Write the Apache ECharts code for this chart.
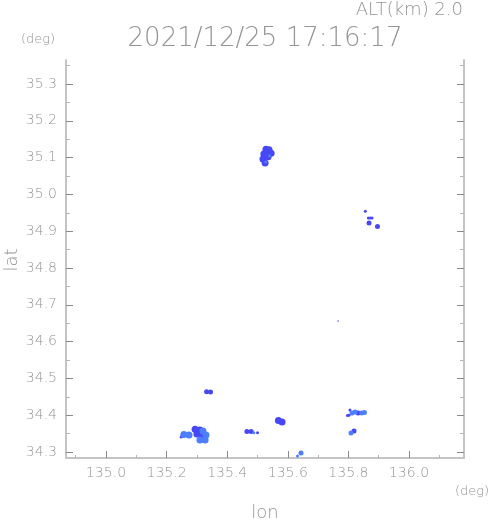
<!DOCTYPE html>
<html><head><meta charset="utf-8">
<script src="https://cdn.jsdelivr.net/npm/echarts@6/dist/echarts.min.js"></script>
<style>html,body{margin:0;padding:0;background:#fff}#c{width:491px;height:521px}</style>
</head><body><div id="c"></div>
<script>
// Axis ticks
const lonMajor = [135.0, 135.2, 135.4, 135.6, 135.8, 136.0];
const lonMinor = [134.9, 135.1, 135.3, 135.5, 135.7, 135.9, 136.1];
const latMajor = [34.3, 34.4, 34.5, 34.6, 34.7, 34.8, 34.9, 35.0, 35.1, 35.2, 35.3];
const latMinor = [34.35, 34.45, 34.55, 34.65, 34.75, 34.85, 34.95, 35.05, 35.15, 35.25, 35.35];
const lonRange = [134.868, 136.1815];
const latRange = [34.2837, 35.3652];

// Echo cells, darker blue - large
const darkLargeLon = [135.528, 135.538, 135.545, 135.521, 135.535, 135.518, 135.525, 135.530,
  135.294, 135.310, 135.300, 135.314, 135.569, 135.581];
const darkLargeLat = [35.123, 35.121, 35.112, 35.110, 35.102, 35.096, 35.085, 35.112,
  34.362, 34.360, 34.349, 34.346, 34.3856, 34.3815];
// darker blue - medium
const darkMidLon = [135.896, 135.868, 135.332, 135.345, 135.832, 135.8185, 135.465, 135.479];
const darkMidLat = [34.913, 34.922, 34.464, 34.463, 34.406, 34.357, 34.356, 34.356];
// darker blue - small
const darkSmallLon = [135.856, 135.866, 135.872, 135.878, 135.500, 135.797, 135.802, 135.805, 135.248];
const darkSmallLat = [34.954, 34.936, 34.936, 34.936, 34.352, 34.399, 34.400, 34.414, 34.341];
// darker blue - single pixel
const darkTinyLon = [135.766];
const darkTinyLat = [34.656];
// lighter blue - large
const lightLargeLon = [135.257, 135.274, 135.310, 135.327, 135.320, 135.330];
const lightLargeLat = [34.3476, 34.346, 34.3326, 34.3326, 34.357, 34.346];
// lighter blue - medium
const lightMidLon = [135.812, 135.822, 135.844, 135.853, 135.8086, 135.6436];
const lightMidLat = [34.406, 34.409, 34.406, 34.407, 34.3516, 34.2973];
// lighter blue - small
const lightSmallLon = [135.488, 135.632, 135.540, 135.527];
const lightSmallLat = [34.352, 34.289, 35.105, 35.088];

const zip = (a, b) => a.map((v, i) => [v, b[i]]);
const DARK = '#4747f6';
const LIGHT = '#4c7eff';
const TXT = '#959595';
const FONT = 'DejaVu Sans';

const chart = echarts.init(document.getElementById('c'), null, {renderer: 'canvas'});

function xAx(ticks, len, showLine, showLabel) {
  return {
    type: 'value', position: 'bottom', min: lonRange[0], max: lonRange[1],
    axisLine: {show: showLine, lineStyle: {color: '#c4c4c4', width: 2}},
    axisTick: {show: true, inside: true, length: len, customValues: ticks,
      lineStyle: {color: len > 4 ? '#8a8a8a' : '#b5b5b5', width: 1}},
    axisLabel: {show: showLabel, customValues: ticks, margin: 8, color: TXT,
      fontFamily: FONT, fontSize: 14, fontWeight: 200, formatter: v => v.toFixed(1)},
    splitLine: {show: false}
  };
}
function yAx(ticks, len, showLine, showLabel, pos) {
  return {
    type: 'value', position: pos, min: latRange[0], max: latRange[1],
    axisLine: {show: showLine, onZero: false, lineStyle: {color: '#c4c4c4', width: 2}},
    axisTick: {show: true, inside: true, length: len, customValues: ticks,
      lineStyle: {color: len > 4 ? '#8a8a8a' : '#b5b5b5', width: 1}},
    axisLabel: {show: showLabel, customValues: ticks, margin: 9, color: TXT,
      fontFamily: FONT, fontSize: 14, fontWeight: 200, formatter: v => v.toFixed(1)},
    splitLine: {show: false}
  };
}

function sc(lon, lat, color, size) {
  return {type: 'scatter', xAxisIndex: 0, yAxisIndex: 0, data: zip(lon, lat),
    symbol: 'circle', symbolSize: size, itemStyle: {color: color, opacity: 1},
    silent: true, animation: false};
}

chart.setOption({
  animation: false,
  backgroundColor: '#fff',
  grid: {left: 66, right: 27, top: 60, bottom: 63, containLabel: false},
  xAxis: [xAx(lonMajor, 7, true, true), xAx(lonMinor, 3, false, false)],
  yAxis: [yAx(latMajor, 7, true, true, 'left'), yAx(latMinor, 4, false, false, 'left'),
          yAx(latMajor, 7, true, false, 'right'), yAx(latMinor, 4, false, false, 'right')],
  series: [
    sc(darkLargeLon, darkLargeLat, DARK, 7),
    sc(darkMidLon, darkMidLat, DARK, 5),
    sc(darkSmallLon, darkSmallLat, DARK, 3),
    sc(darkTinyLon, darkTinyLat, DARK, 1.5),
    sc(lightLargeLon, lightLargeLat, LIGHT, 7),
    sc(lightMidLon, lightMidLat, LIGHT, 5),
    sc(lightSmallLon, lightSmallLat, LIGHT, 3)
  ],
  graphic: [
    {type: 'text', x: 463, y: 10, style: {text: 'ALT(km) 2.0', fill: TXT, font: '200 18px "DejaVu Sans"', textAlign: 'right', textVerticalAlign: 'middle'}},
    {type: 'text', x: 265, y: 39, style: {text: '2021/12/25 17:16:17', fill: TXT, font: '200 26px "DejaVu Sans"', textAlign: 'center', textVerticalAlign: 'middle'}},
    {type: 'text', x: 38, y: 40, style: {text: '(deg)', fill: TXT, font: '200 13px "DejaVu Sans"', textAlign: 'center', textVerticalAlign: 'middle'}},
    {type: 'text', x: 472, y: 492, style: {text: '(deg)', fill: TXT, font: '200 13px "DejaVu Sans"', textAlign: 'center', textVerticalAlign: 'middle'}},
    {type: 'text', x: 265, y: 513, style: {text: 'lon', fill: TXT, font: '200 18px "DejaVu Sans"', textAlign: 'center', textVerticalAlign: 'middle'}},
    {type: 'text', x: 12, y: 260, rotation: Math.PI / 2, style: {text: 'lat', fill: TXT, font: '200 18px "DejaVu Sans"', textAlign: 'center', textVerticalAlign: 'middle'}}
  ]
});
</script></body></html>
